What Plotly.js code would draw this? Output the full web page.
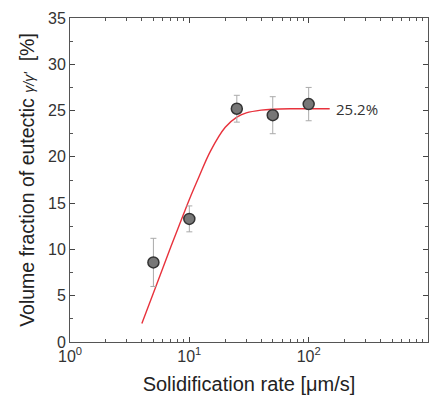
<!DOCTYPE html>
<html><head><meta charset="utf-8">
<script src="https://cdn.plot.ly/plotly-3.0.1.min.js"></script>
<style>body{margin:0;background:#fff}#plot{width:436px;height:404px}</style>
</head><body><div id="plot"></div>
<script>
// Measured data
const rate = [5, 10, 25, 50, 100];
const fraction = [8.6, 13.3, 25.2, 24.5, 25.7];
const fracErr = [2.6, 1.4, 1.45, 2.0, 1.8];
// Fitted curve
const fitRate = [4, 5, 6, 7, 8, 9, 10, 12, 15, 20, 25, 30, 40, 50, 70, 100, 150];
const fitFrac = [2.0, 5.3, 8.0, 10.3, 12.2, 13.9, 15.4, 17.8, 20.6, 23.2, 24.3, 24.75, 25.05, 25.15, 25.2, 25.2, 25.2];
const plateauLabel = '25.2%';
const plateauValue = 25.2;
const xMajor = [1, 10, 100, 1000];
const xMajorText = ['10<sup>0</sup>', '10<sup>1</sup>', '10<sup>2</sup>', '10<sup>3</sup>'];
const xMinor = [2,3,4,5,6,7,8,9,20,30,40,50,60,70,80,90,200,300,400,500,600,700,800,900];

const fam = 'Liberation Sans, Arial, sans-serif';

const traces = [
  {x: fitRate, y: fitFrac, type: 'scatter', mode: 'lines', line: {color: '#e8323c', width: 1.4, shape: 'spline', smoothing: 1}, hoverinfo: 'skip'},
  {x: rate, y: fraction, type: 'scatter', mode: 'markers',
   marker: {size: 11, color: '#777', line: {color: '#333', width: 1.5}},
   error_y: {type: 'data', array: fracErr, visible: true, color: '#aaa', thickness: 1, width: 3}}
];

const layout = {
  width: 436, height: 404,
  margin: {l: 70, r: 8, t: 18, b: 62},
  showlegend: false,
  paper_bgcolor: '#fff', plot_bgcolor: '#fff',
  font: {family: fam, color: '#333'},
  xaxis: {
    type: 'log', range: [0, 3], showgrid: false, zeroline: false,
    showline: true, linecolor: '#555', linewidth: 1, mirror: 'allticks',
    ticks: 'inside', ticklen: 5, tickcolor: '#444',
    tickmode: 'array', tickvals: xMajor, ticktext: xMajorText,
    minor: {tickmode: 'array', tickvals: xMinor, ticks: 'inside', ticklen: 3, tickcolor: '#555', showgrid: false},
    tickfont: {size: 16, family: fam, color: '#333'},
    title: {text: 'Solidification rate [μm/s]', font: {size: 20, family: fam, color: '#222'}, standoff: 12}
  },
  yaxis: {
    range: [0, 35], showgrid: false, zeroline: false,
    showline: true, linecolor: '#555', linewidth: 1, mirror: 'allticks',
    ticks: 'inside', ticklen: 5, tickcolor: '#444', dtick: 5, tick0: 0,
    minor: {ticks: 'inside', ticklen: 3, dtick: 2.5, tickcolor: '#555'},
    tickfont: {size: 16, family: fam, color: '#333'},
    title: {text: "Volume fraction of eutectic <i><span style='font-size:14px'>γ/γ'</span></i>  [%]", font: {size: 19.5, family: fam, color: '#222'}, standoff: 8}
  },
  annotations: [{
    x: Math.log10(fitRate[fitRate.length - 1]), y: plateauValue, xref: 'x', yref: 'y',
    text: plateauLabel, showarrow: false, xanchor: 'left', xshift: 4,
    font: {size: 15, family: 'Open Sans, sans-serif', color: '#333'}
  }]
};

Plotly.newPlot('plot', traces, layout, {displayModeBar: false, staticPlot: true});
</script></body></html>
